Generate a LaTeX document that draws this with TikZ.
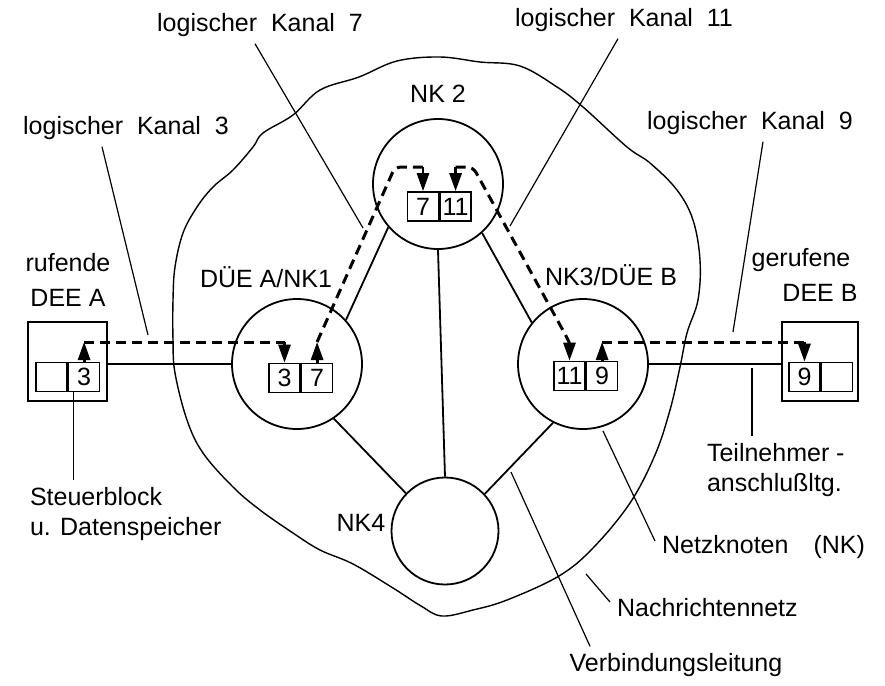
\documentclass[tikz,border=0pt]{standalone}
\usepackage{fontspec}
\setmainfont{Liberation Sans}
\usetikzlibrary{arrows.meta,positioning}

\tikzset{
  knoten/.style={draw,circle,line width=0.9pt,minimum size=65pt,inner sep=0pt},
  zelle/.style={draw,line width=0.8pt,minimum width=15.5pt,minimum height=14.5pt,inner sep=0pt},
  geraet/.style={draw,line width=0.9pt,minimum height=39.5pt},
  leitung/.style={line width=0.9pt},
  hinweis/.style={line width=0.6pt},
  kanal/.style={line width=1.5pt,dash pattern=on 5pt off 3pt},
  pfeil/.style={line width=1.4pt,-{Triangle[length=9pt,width=6pt]}}
}

\begin{document}
\begin{tikzpicture}[x=0.5pt,y=-0.5pt,font=\fontsize{12.5}{15}\selectfont]
\useasboundingbox (0,0) rectangle (885,686);

% Nachrichtennetz
\draw[line width=0.7pt] plot[smooth cycle,tension=0.6] coordinates {
 (440,57) (480,62) (520,66) (557,87) (583,107) (627,147) (650,163) (677,190)
 (693,220) (700,260) (698,300) (687,333) (680,367) (670,410) (655,455) (630,503)
 (593,548) (559,576) (507,600) (473,610) (442,616) (421,606) (393,588) (353,564)
 (320,550) (293,533) (260,510) (233,487) (203,453) (187,420) (175,373) (173,340)
 (173,300) (175,267) (183,233) (197,207) (213,187) (233,170) (253,147) (263,133)
 (293,115) (320,90) (359,77) (397,61)};

% Netzknoten
\node[knoten] (nk1) at (297,364) {};
\node[knoten] (nk2) at (438,184) {};
\node[knoten] (nk3) at (583,364) {};
\node[knoten,minimum size=53.5pt] (nk4) at (445,531) {};

\node (nk1lbl) at (266,277) {DÜE A/NK1};
\node (nk2lbl) at (438,94) {NK 2};
\node (nk3lbl) at (611,275) {NK3/DÜE B};
\node (nk4lbl) at (361,523) {NK4};

\foreach \a/\b in {nk1.42/nk2.221, nk2.312/nk3.141, nk2.south/nk4.north,
                   nk1.304/nk4.136, nk3.243/nk4.43}
{
\draw[leitung] (\a) -- (\b);
}

% Datenendeinrichtungen
\node[geraet,minimum width=39.5pt] (deeA) at (67.5,361.5) {};
\node[geraet,minimum width=38pt] (deeB) at (820,361.5) {};
\node (rufA) at (68,263) {rufende};
\node (rufB) at (68,298) {DEE A};
\node (geruf) at (801,260) {gerufene};
\node (gerufB) at (820,293) {DEE B};

\draw[leitung] (deeA.east |- nk1.west) -- (nk1.west);
\draw[leitung] (nk3.east) -- (deeB.west |- nk3.east);

% Kanalspeicher
\node[zelle] (a0) at (51.5,377) {};
\node[zelle,right=0pt of a0] (a3) {3};
\node[zelle] (n1a) at (284.5,378) {3};
\node[zelle,right=0pt of n1a] (n1b) {7};
\node[zelle] (n2a) at (423,206.5) {7};
\node[zelle,right=0pt of n2a] (n2b) {11};
\node[zelle] (n3a) at (569.5,376) {11};
\node[zelle,right=0pt of n3a] (n3b) {9};
\node[zelle] (b9) at (804.5,377) {9};
\node[zelle,right=0pt of b9] (b0) {};

% logische Kanaele
\coordinate (k3a) at (a3.north |- 0,342);
\coordinate (k3b) at (n1a.north |- 0,342);
\draw[pfeil] (a3.north) -- (k3a);
\draw[kanal] (k3a) -- (k3b);
\draw[pfeil] (k3b) -- (n1a.north);

\coordinate (k7a) at (n1b.north |- 0,342);
\coordinate (k7b) at (395,167);
\coordinate (k7c) at (n2a.north |- 0,167);
\draw[pfeil] (n1b.north) -- (k7a);
\draw[kanal,rounded corners=3pt] (k7a) -- (k7b) -- (k7c);
\draw[pfeil] (k7c) -- (n2a.north);

\coordinate (k11a) at (n2b.north |- 0,167);
\coordinate (k11b) at (473,167);
\coordinate (k11c) at (565,334);
\coordinate (k11d) at (n3a.north |- 0,343);
\draw[pfeil] (k11a) -- (n2b.north);
\draw[kanal,rounded corners=3pt] (k11a) -- (k11b) -- (k11c) -- (k11d);
\draw[pfeil] (k11d) -- (n3a.north);

\coordinate (k9a) at (n3b.north |- 0,342);
\coordinate (k9b) at (b9.north |- 0,342);
\draw[pfeil] (n3b.north) -- (k9a);
\draw[kanal] (k9a) -- (k9b);
\draw[pfeil] (k9b) -- (b9.north);

% Beschriftungen mit Hinweislinien
\node (kan3) at (126,128) {logischer\ \ Kanal\ \ 3};
\node (kan7) at (260,25) {logischer\ \ Kanal\ \ 7};
\node (kan11) at (624,20) {logischer\ \ Kanal\ \ 11};
\node (kan9) at (750,123) {logischer\ \ Kanal\ \ 9};
\coordinate (kan3e) at (148,335);
\coordinate (kan7e) at (363,228);
\coordinate (kan11e) at (510,226);
\coordinate (kan9e) at (733,332);
\draw[hinweis] ([xshift=-12pt]kan3.south) -- (kan3e);
\draw[hinweis] ([xshift=-2.5pt]kan7.south) -- (kan7e);
\draw[hinweis] ([xshift=-3pt]kan11.south) -- (kan11e);
\draw[hinweis] ([xshift=6.5pt]kan9.south) -- (kan9e);

\node[anchor=north west,align=left] (steuer) at (23,480) {Steuerblock\\u. Datenspeicher};
\draw[hinweis] ([xshift=3pt]a0.south east) -- ([xshift=3pt]a0.south east |- steuer.north);

\node[anchor=north west,align=left] (teiln) at (700,436) {Teilnehmer -\\anschlußltg.};
\coordinate (teilnA) at (752,368);
\draw[hinweis] (teilnA) -- (teilnA |- teiln.north);

\node[anchor=west] (netzk) at (655,547) {Netzknoten\quad(NK)};
\coordinate (netzkA) at (603,431);
\draw[hinweis] (netzkA) -- ([yshift=3pt]netzk.west);

\node[anchor=west] (nnetz) at (610,608) {Nachrichtennetz};
\coordinate (nnetzA) at (586,574);
\draw[hinweis] (nnetzA) -- ([yshift=3pt]nnetz.west);

\node (verb) at (676,665) {Verbindungsleitung};
\coordinate (verbA) at (511,472);
\draw[hinweis] (verbA) -- ([xshift=-43pt]verb.north);

\end{tikzpicture}
\end{document}
